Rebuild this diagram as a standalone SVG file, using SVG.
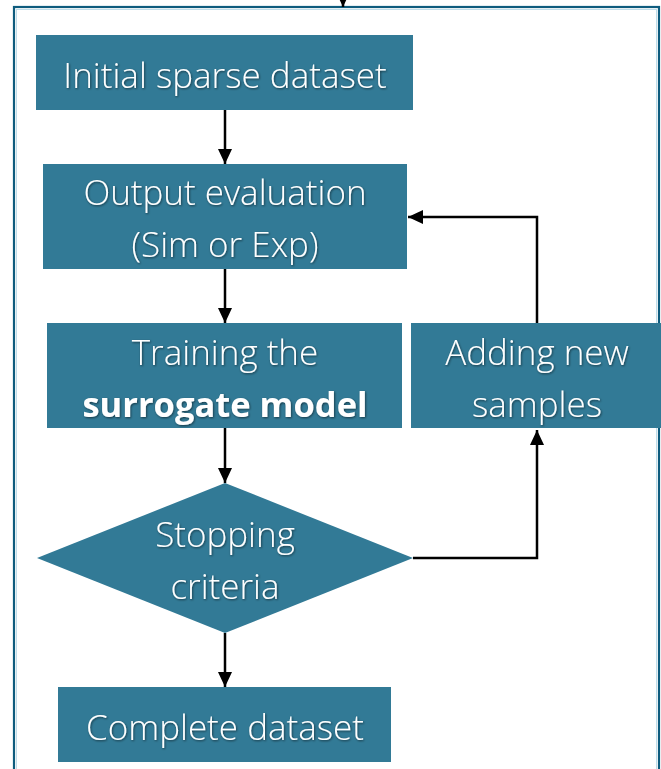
<svg xmlns="http://www.w3.org/2000/svg" width="661" height="769" viewBox="0 0 661 769">
<style>
.node{fill:#327A96;}
.lbl{font-family:"Open Sans","Noto Sans","Liberation Sans",sans-serif;font-size:35px;font-weight:300;fill:#ffffff;text-anchor:middle;filter:url(#sh);}
.b{font-weight:700;font-size:34.5px;}
.conn{fill:none;stroke:#000000;stroke-width:2.5;}
</style>
<defs>
<marker id="ah" markerUnits="userSpaceOnUse" markerWidth="16" markerHeight="16" viewBox="0 0 16 16" refX="15" refY="8" orient="auto">
<path d="M0,1 L15,8 L0,15 Z" fill="#000000"/>
</marker>
<filter id="sh" x="-10%" y="-20%" width="120%" height="150%">
<feDropShadow dx="0.8" dy="1" stdDeviation="0.8" flood-color="#000000" flood-opacity="0.55"/>
</filter>
</defs>
<rect width="661" height="769" fill="#ffffff"/>
<g id="frame">
<rect x="14" y="7" width="645" height="800" fill="none" stroke="#0E5C7E" stroke-width="2.2"/>
<rect x="16.5" y="9.5" width="640" height="800" fill="none" stroke="#BFDDEA" stroke-width="1"/>
</g>
<g id="connectors">
<line class="conn" x1="343" y1="-10" x2="343" y2="7" marker-end="url(#ah)"/>
<line class="conn" x1="225" y1="110" x2="225" y2="164" marker-end="url(#ah)"/>
<line class="conn" x1="225" y1="269" x2="225" y2="323" marker-end="url(#ah)"/>
<line class="conn" x1="225" y1="428" x2="225" y2="483" marker-end="url(#ah)"/>
<line class="conn" x1="225" y1="633" x2="225" y2="687" marker-end="url(#ah)"/>
<polyline class="conn" points="413,558 537,558 537,430" marker-end="url(#ah)"/>
<polyline class="conn" points="537,323 537,217 408,217" marker-end="url(#ah)"/>
</g>
<g id="initial">
<rect class="node" x="36" y="35" width="377" height="75"/>
<text class="lbl" x="225" y="88">Initial sparse dataset</text>
</g>
<g id="output">
<rect class="node" x="43" y="164" width="364" height="105"/>
<text class="lbl" x="225" y="205">Output evaluation</text>
<text class="lbl" x="225" y="257">(Sim or Exp)</text>
</g>
<g id="training">
<rect class="node" x="47" y="323" width="355" height="105"/>
<text class="lbl" x="225" y="365">Training the</text>
<text class="lbl b" x="225" y="417">surrogate model</text>
</g>
<g id="adding">
<rect class="node" x="411" y="323" width="250" height="105"/>
<text class="lbl" x="537" y="365">Adding new</text>
<text class="lbl" x="537" y="417">samples</text>
</g>
<g id="stopping">
<polygon class="node" points="225,483 413,558 225,633 37,558"/>
<text class="lbl" x="225" y="547">Stopping</text>
<text class="lbl" x="225" y="599">criteria</text>
</g>
<g id="complete">
<rect class="node" x="58" y="687" width="333" height="75"/>
<text class="lbl" x="225" y="740">Complete dataset</text>
</g>
</svg>
